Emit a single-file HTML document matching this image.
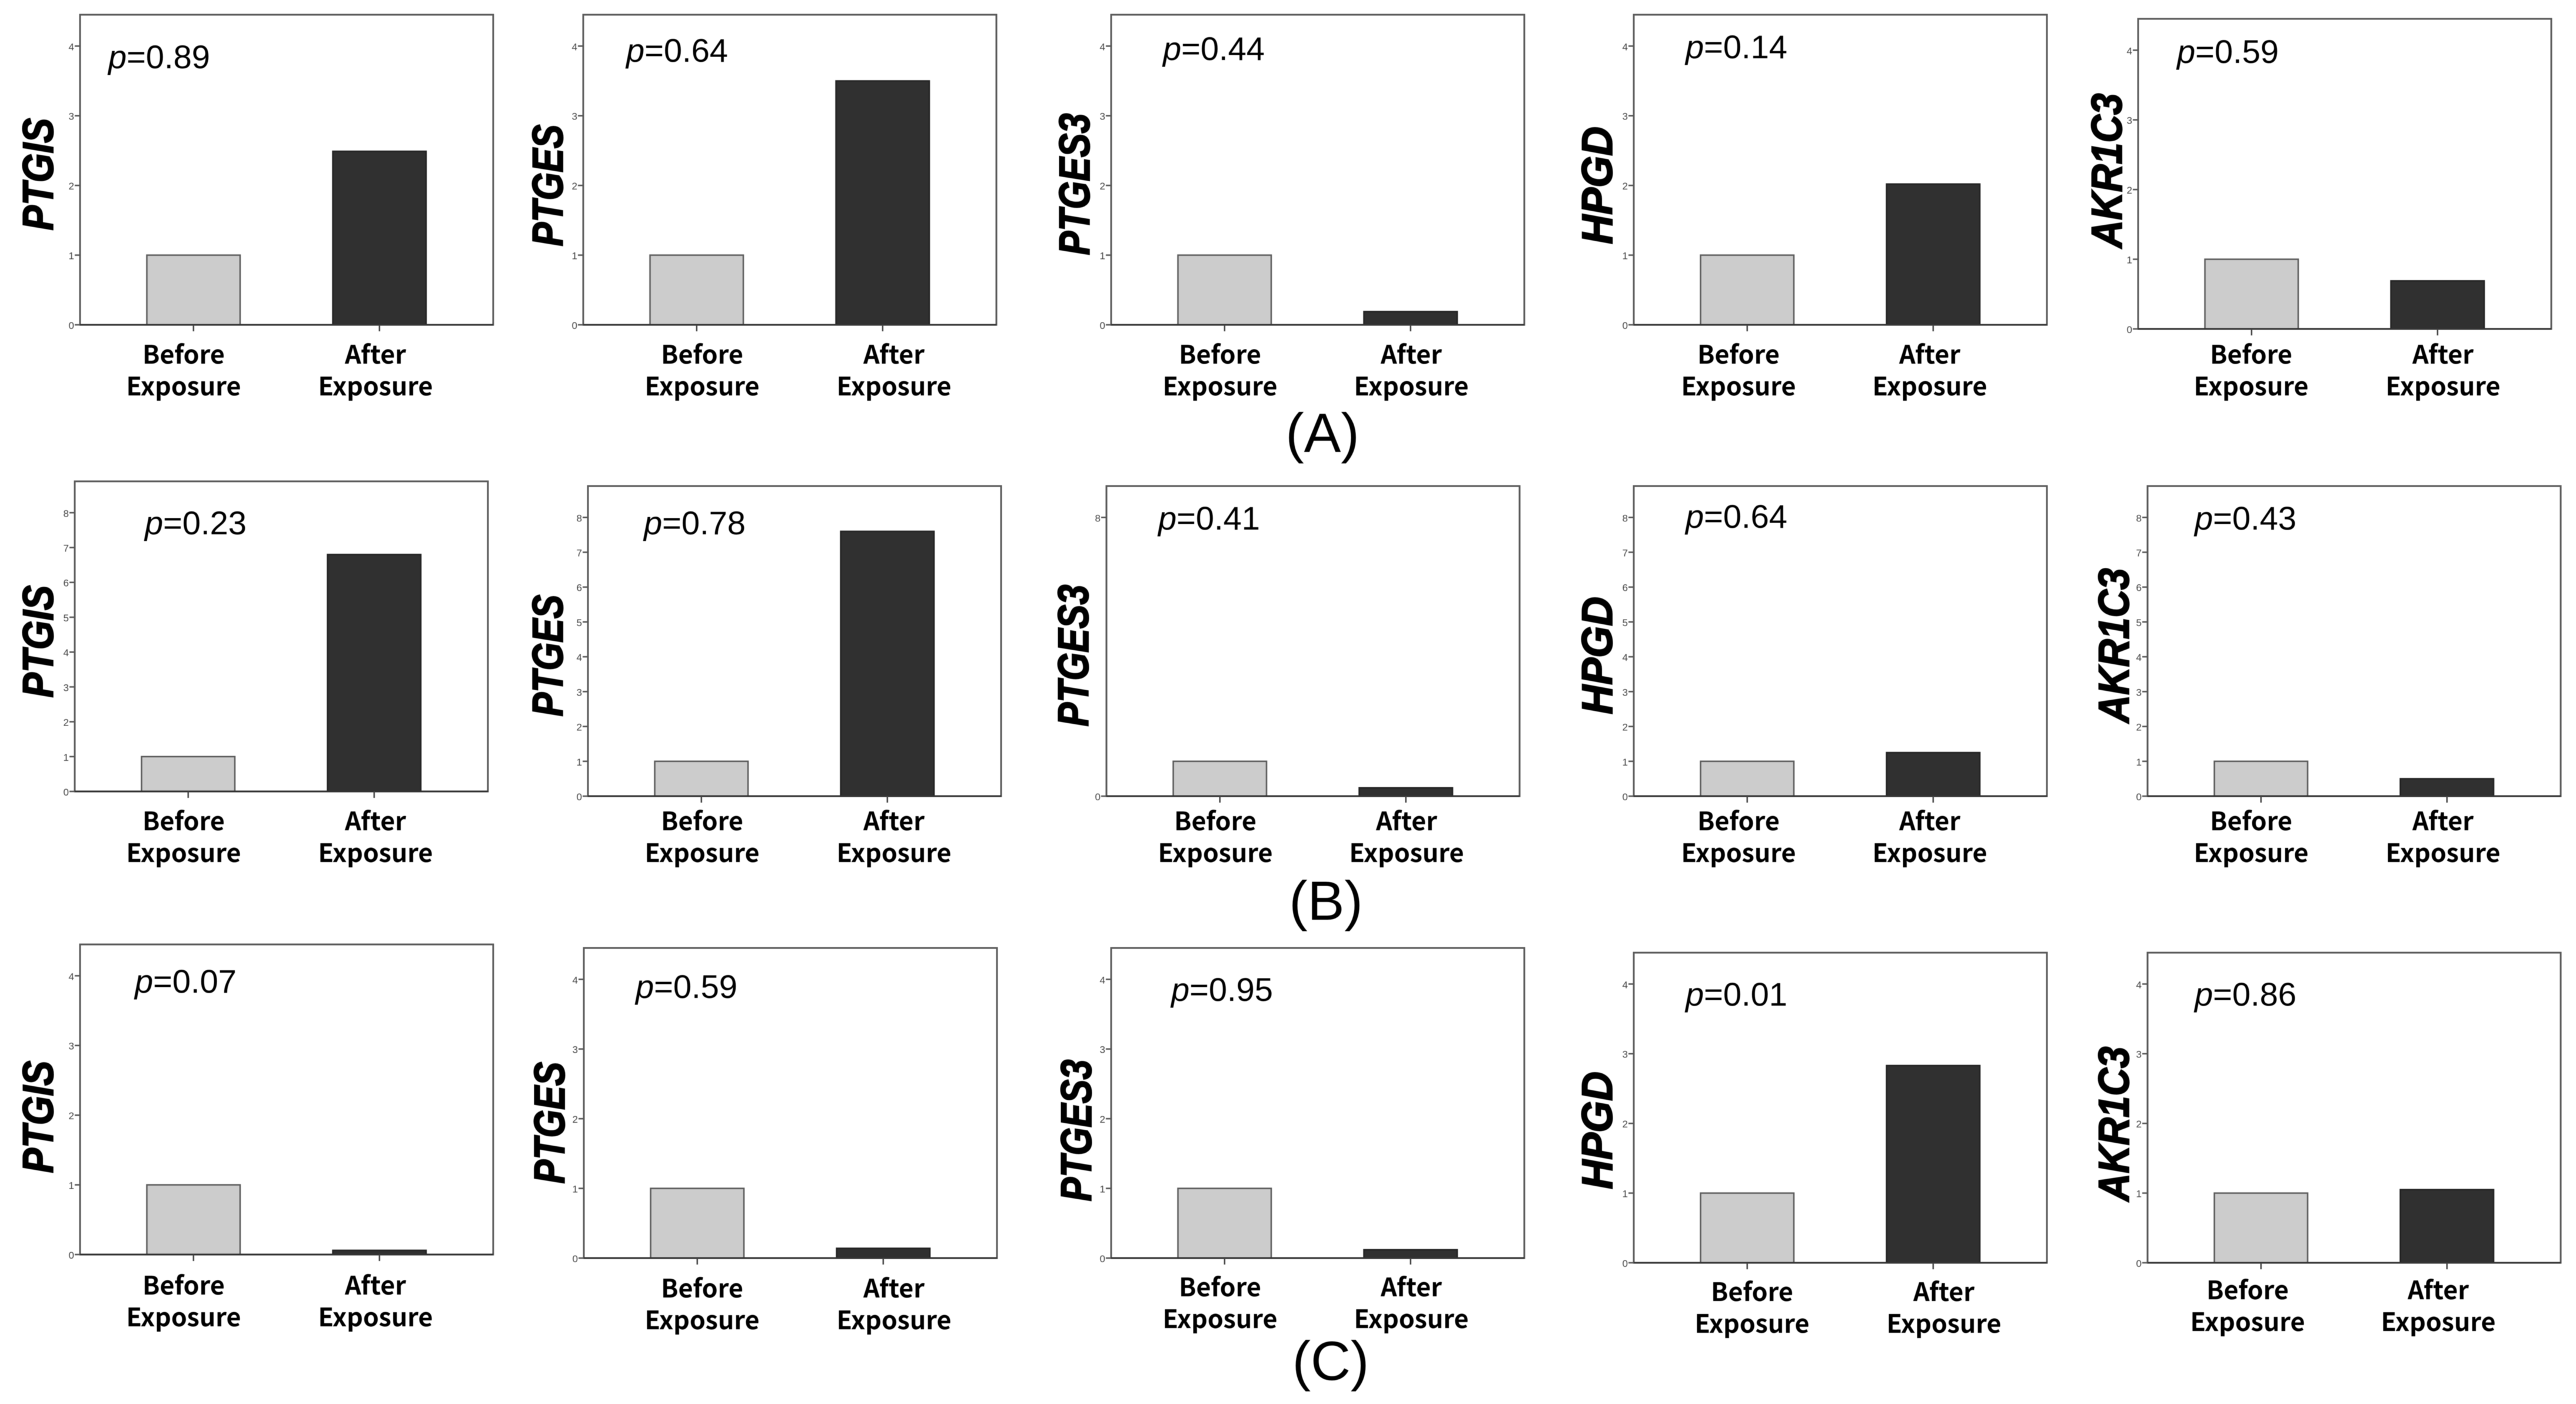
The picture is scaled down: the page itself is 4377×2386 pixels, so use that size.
<!DOCTYPE html>
<html>
<head>
<meta charset="utf-8">
<title>Gene expression before and after exposure</title>
<style>
html,body{margin:0;padding:0;background:#fff;}
svg{display:block;filter:blur(0.6px);}
</style>
</head>
<body>
<svg id="figure" xmlns="http://www.w3.org/2000/svg" width="4377" height="2386" viewBox="0 0 4377 2386"></svg>
<script>
// ---- chart data ----
const genes = ['PTGIS', 'PTGES', 'PTGES3', 'HPGD', 'AKR1C3'];
const conditionLine1 = ['Before', 'After'];
const conditionLine2 = ['Exposure', 'Exposure'];
const rowNames = ['(A)', '(B)', '(C)'];
const beforeValues = [
  [1, 1, 1, 1, 1],
  [1, 1, 1, 1, 1],
  [1, 1, 1, 1, 1]
];
const afterValues = [
  [2.49, 3.5, 0.19, 2.02, 0.69],
  [6.8, 7.6, 0.24, 1.25, 0.5],
  [0.06, 0.14, 0.12, 2.83, 1.05]
];
const pValues = [
  ['0.89', '0.64', '0.44', '0.14', '0.59'],
  ['0.23', '0.78', '0.41', '0.64', '0.43'],
  ['0.07', '0.59', '0.95', '0.01', '0.86']
];
const axisMax = [4.45, 8.9, 4.45];
const tickValues = [
  [0, 1, 2, 3, 4],
  [0, 1, 2, 3, 4, 5, 6, 7, 8],
  [0, 1, 2, 3, 4]
];
const sparseTickValues = [0, 2, 4, 6, 8];
const sparseTickLabels = ['0', '', '', '', '8'];

// ---- layout (not data) ----
const plotW = 702, plotH = 527;
const frameLeft = [
  [136, 991, 1888, 2776, 3633],
  [127, 999, 1880, 2776, 3649],
  [136, 992, 1888, 2776, 3649]
];
const frameTop = [
  [25, 25, 25, 25, 32],
  [818, 826, 826, 826, 826],
  [1605, 1611, 1611, 1619, 1619]
];
const barInset = [113.5, 429.5];
const barWidth = 158.5;
const xLabelCenter = [
  [[312, 638], [1193, 1519], [2073, 2398], [2954, 3279], [3825, 4151]],
  [[312, 638], [1193, 1519], [2065, 2390], [2954, 3279], [3825, 4151]],
  [[312, 638], [1193, 1519], [2073, 2398], [2977, 3303], [3819, 4143]]
];
const xLabelBaseline = [
  [618, 618, 618, 618, 618],
  [1411, 1411, 1411, 1411, 1411],
  [2200, 2205, 2203, 2211, 2208]
];
const pLabelX = [
  [184, 1064, 1976, 2864, 3699],
  [246, 1094, 1968, 2864, 3729],
  [229, 1080, 1990, 2864, 3729]
];
const pLabelY = [
  [116, 105, 102, 99, 107],
  [908, 908, 900, 897, 900],
  [1687, 1696, 1701, 1709, 1709]
];
const geneLabelX = [
  [90, 956, 1851, 2739, 3605],
  [90, 956, 1849, 2739, 3617],
  [90, 959, 1854, 2739, 3617]
];
const geneLabelY = [
  [296, 315, 313, 315, 290],
  [1090, 1114, 1114, 1114, 1097],
  [1898, 1908, 1921, 1921, 1910]
];
const geneLabelLength = [191, 207, 241, 200, 263];
const rowNameX = [2247, 2253, 2261];
const rowNameY = [768, 1563, 2345];

const SANS = '"Liberation Sans", sans-serif';
const LABEL = '"Noto Sans CJK KR", "Liberation Sans", sans-serif';
const NS = 'http://www.w3.org/2000/svg';
const svg = document.getElementById('figure');

function make(tag, parent, attrs) {
  const el = document.createElementNS(NS, tag);
  for (const k in attrs) el.setAttribute(k, attrs[k]);
  parent.appendChild(el);
  return el;
}
function yScale(value, top, max) {
  return top + plotH - (value / max) * plotH;
}
function xBar(left, index) {
  return left + barInset[index];
}

rowNames.forEach(function (rowName, r) {
  genes.forEach(function (gene, c) {
    const left = frameLeft[r][c];
    const top = frameTop[r][c];
    const bottom = top + plotH;
    const max = axisMax[r];
    const isSparse = r === 1 && c === 2;
    const ticks = isSparse ? sparseTickValues : tickValues[r];

    const panel = make('g', svg, {});
    
    

    const frame = make('rect', panel, { x: left, y: top, width: plotW, height: plotH, fill: '#fff', stroke: '#5a5a5a', 'stroke-width': 3 });
    
    

    const beforeTop = yScale(beforeValues[r][c], top, max);
    const beforeBar = make('rect', panel, { x: xBar(left, 0), y: beforeTop, width: barWidth, height: bottom - beforeTop, fill: '#cccccc', stroke: '#5a5a5a', 'stroke-width': 2.5 });
    
    

    const afterTop = yScale(afterValues[r][c], top, max);
    const afterBar = make('rect', panel, { x: xBar(left, 1), y: afterTop, width: barWidth, height: bottom - afterTop, fill: '#303030', stroke: '#222', 'stroke-width': 2.5 });
    
    

    const baseline = make('line', panel, { x1: left, x2: left + plotW, y1: bottom, y2: bottom, stroke: '#333', 'stroke-width': 3 });
    
    

    ticks.forEach(function (t, i) {
      const y = yScale(t, top, max);
      const label = isSparse ? sparseTickLabels[i] : String(t);
      if (label === '') return;
      const tick = make('line', panel, { x1: left - 9, x2: left, y1: y, y2: y, stroke: '#555', 'stroke-width': 2.5 });
      
      
      const tickLabel = make('text', panel, { x: left - 10, y: y + 7, 'text-anchor': 'end', 'font-family': SANS, 'font-size': 17, fill: '#444' });
      
      
      tickLabel.textContent = label;
    });

    [0, 1].forEach(function (k) {
      const cx = xBar(left, k) + barWidth / 2;
      const xTick = make('line', panel, { x1: cx, x2: cx, y1: bottom, y2: bottom + 11, stroke: '#444', 'stroke-width': 2.5 });
      
      

      const line1 = make('text', panel, { x: xLabelCenter[r][c][k], y: xLabelBaseline[r][c], 'text-anchor': 'middle', 'font-family': LABEL, 'font-size': 43, 'font-weight': 700, fill: '#000' });
      
      
      line1.textContent = conditionLine1[k];

      const line2 = make('text', panel, { x: xLabelCenter[r][c][k], y: xLabelBaseline[r][c] + 54, 'text-anchor': 'middle', 'font-family': LABEL, 'font-size': 43, 'font-weight': 700, fill: '#000' });
      
      
      line2.textContent = conditionLine2[k];
    });

    const pText = make('text', panel, { x: pLabelX[r][c], y: pLabelY[r][c], 'font-family': SANS, 'font-size': 56, fill: '#000' });
    
    
    const pItalic = make('tspan', pText, { 'font-style': 'italic' });
    pItalic.textContent = 'p';
    const pNumber = make('tspan', pText, {});
    pNumber.textContent = '=' + pValues[r][c];

    const gx = geneLabelX[r][c], gy = geneLabelY[r][c];
    const geneLabel = make('text', panel, { x: 0, y: 0, transform: 'translate(' + gx + ' ' + gy + ') rotate(-90)', 'text-anchor': 'middle', 'font-family': SANS, 'font-size': 73, 'font-weight': 700, 'font-style': 'italic', fill: '#000', stroke: '#000', 'stroke-width': 2, textLength: geneLabelLength[c], lengthAdjust: 'spacingAndGlyphs' });
    
    
    geneLabel.textContent = gene;
  });

  const rowLabel = make('text', svg, { x: rowNameX[r], y: rowNameY[r], 'text-anchor': 'middle', 'font-family': SANS, 'font-size': 94, fill: '#000' });
  
  
  rowLabel.textContent = rowName;
});
</script>
</body>
</html>
